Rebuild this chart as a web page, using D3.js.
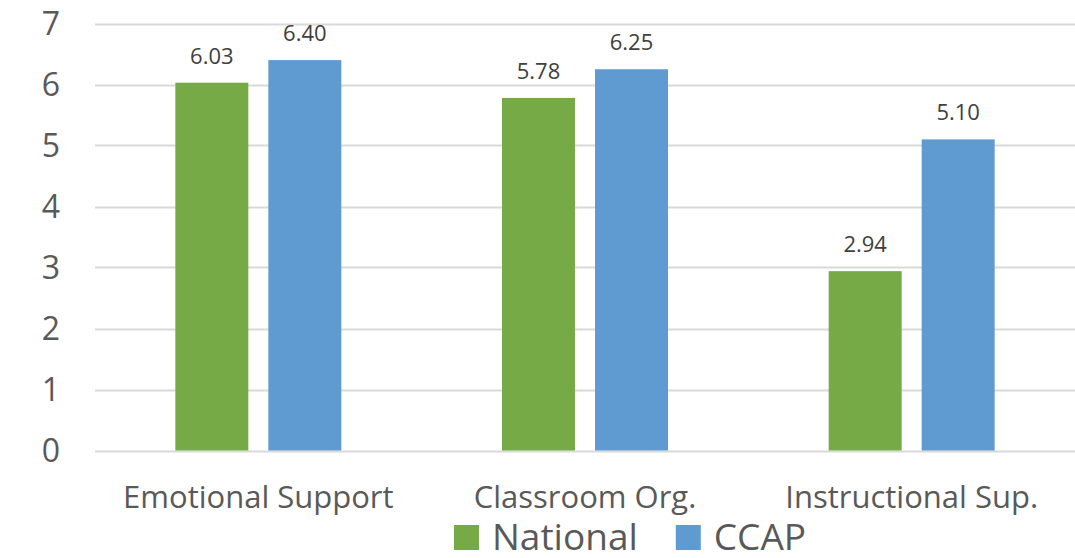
<!DOCTYPE html>
<html>
<head>
<meta charset="utf-8">
<script src="https://cdn.jsdelivr.net/npm/d3@7"></script>
<style>
    body { margin: 0; background: #fff; }
    text { font-family: "Open Sans", sans-serif; }
</style>
</head>
<body>
<svg id="chart" width="1075" height="558"></svg>
<script>
// chart data
const categories = ["Emotional Support", "Classroom Org.", "Instructional Sup."];
const seriesNames = ["National", "CCAP"];
const national = [6.03, 5.78, 2.94];
const ccap = [6.40, 6.25, 5.10];
const yTicks = [0, 1, 2, 3, 4, 5, 6, 7];
const colors = ["#75AA47", "#5F9BD0"];

let svg = d3.select("#chart");
let plot = { left: 95, right: 1075, top: 23.5, bottom: 450.5 };

let x0 = d3.scaleBand()
    .domain(categories)
    .range([plot.left, plot.right]);

let x1 = d3.scaleBand()
    .domain(seriesNames)
    .range([0, 166])
    .paddingInner(20 / 93);

let y = d3.scaleLinear()
    .domain([0, 7])
    .range([plot.bottom, plot.top]);

// gridlines
svg.append("g")
    .selectAll("line")
    .data(yTicks)
    .join("line")
    .attr("x1", plot.left)
    .attr("x2", plot.right)
    .attr("y1", d => Math.round(y(d)) + 0.5)
    .attr("y2", d => Math.round(y(d)) + 0.5)
    .attr("stroke", "#d9d9d9")
    .attr("stroke-width", 2);

// y axis labels
svg.append("g")
    .selectAll("text")
    .data(yTicks)
    .join("text")
    .attr("x", 60)
    .attr("y", d => y(d))
    .attr("dy", "0.36em")
    .attr("text-anchor", "end")
    .attr("font-size", 32)
    .attr("fill", "#595959")
    .text(d => d);

// bars
let rows = categories.map((c, i) => ({ cat: c, values: [national[i], ccap[i]] }));
let groups = svg.append("g")
    .selectAll("g")
    .data(rows)
    .join("g")
    .attr("transform", d => `translate(${x0(d.cat) + (x0.bandwidth() - 166) / 2},0)`);

groups.selectAll("rect")
    .data(d => d.values.map((v, j) => ({ name: seriesNames[j], value: v, color: colors[j] })))
    .join("rect")
    .attr("x", d => x1(d.name))
    .attr("width", x1.bandwidth())
    .attr("y", d => y(d.value))
    .attr("height", d => y(0) - y(d.value))
    .attr("fill", d => d.color);

groups.selectAll("text")
    .data(d => d.values.map((v, j) => ({ name: seriesNames[j], value: v })))
    .join("text")
    .attr("x", d => x1(d.name) + x1.bandwidth() / 2)
    .attr("y", d => y(d.value) - 19)
    .attr("text-anchor", "middle")
    .attr("font-size", 22)
    .attr("fill", "#404040")
    .text(d => d.value.toFixed(2));

// category labels
svg.append("g")
    .selectAll("text")
    .data(categories)
    .join("text")
    .attr("x", d => x0(d) + x0.bandwidth() / 2)
    .attr("y", 508)
    .attr("text-anchor", "middle")
    .attr("font-size", 31)
    .attr("fill", "#595959")
    .text(d => d);

// legend
let legend = svg.append("g");
let lx = 454;
seriesNames.forEach((name, i) => {
    legend.append("rect")
        .attr("x", lx)
        .attr("y", 525)
        .attr("width", 25)
        .attr("height", 25)
        .attr("fill", colors[i]);
    let t = legend.append("text")
        .attr("x", lx + 38)
        .attr("y", 550)
        .attr("font-size", 37)
        .attr("fill", "#595959")
        .text(name);
    lx += 38 + t.node().getComputedTextLength() + 38;
});
</script>
</body>
</html>
